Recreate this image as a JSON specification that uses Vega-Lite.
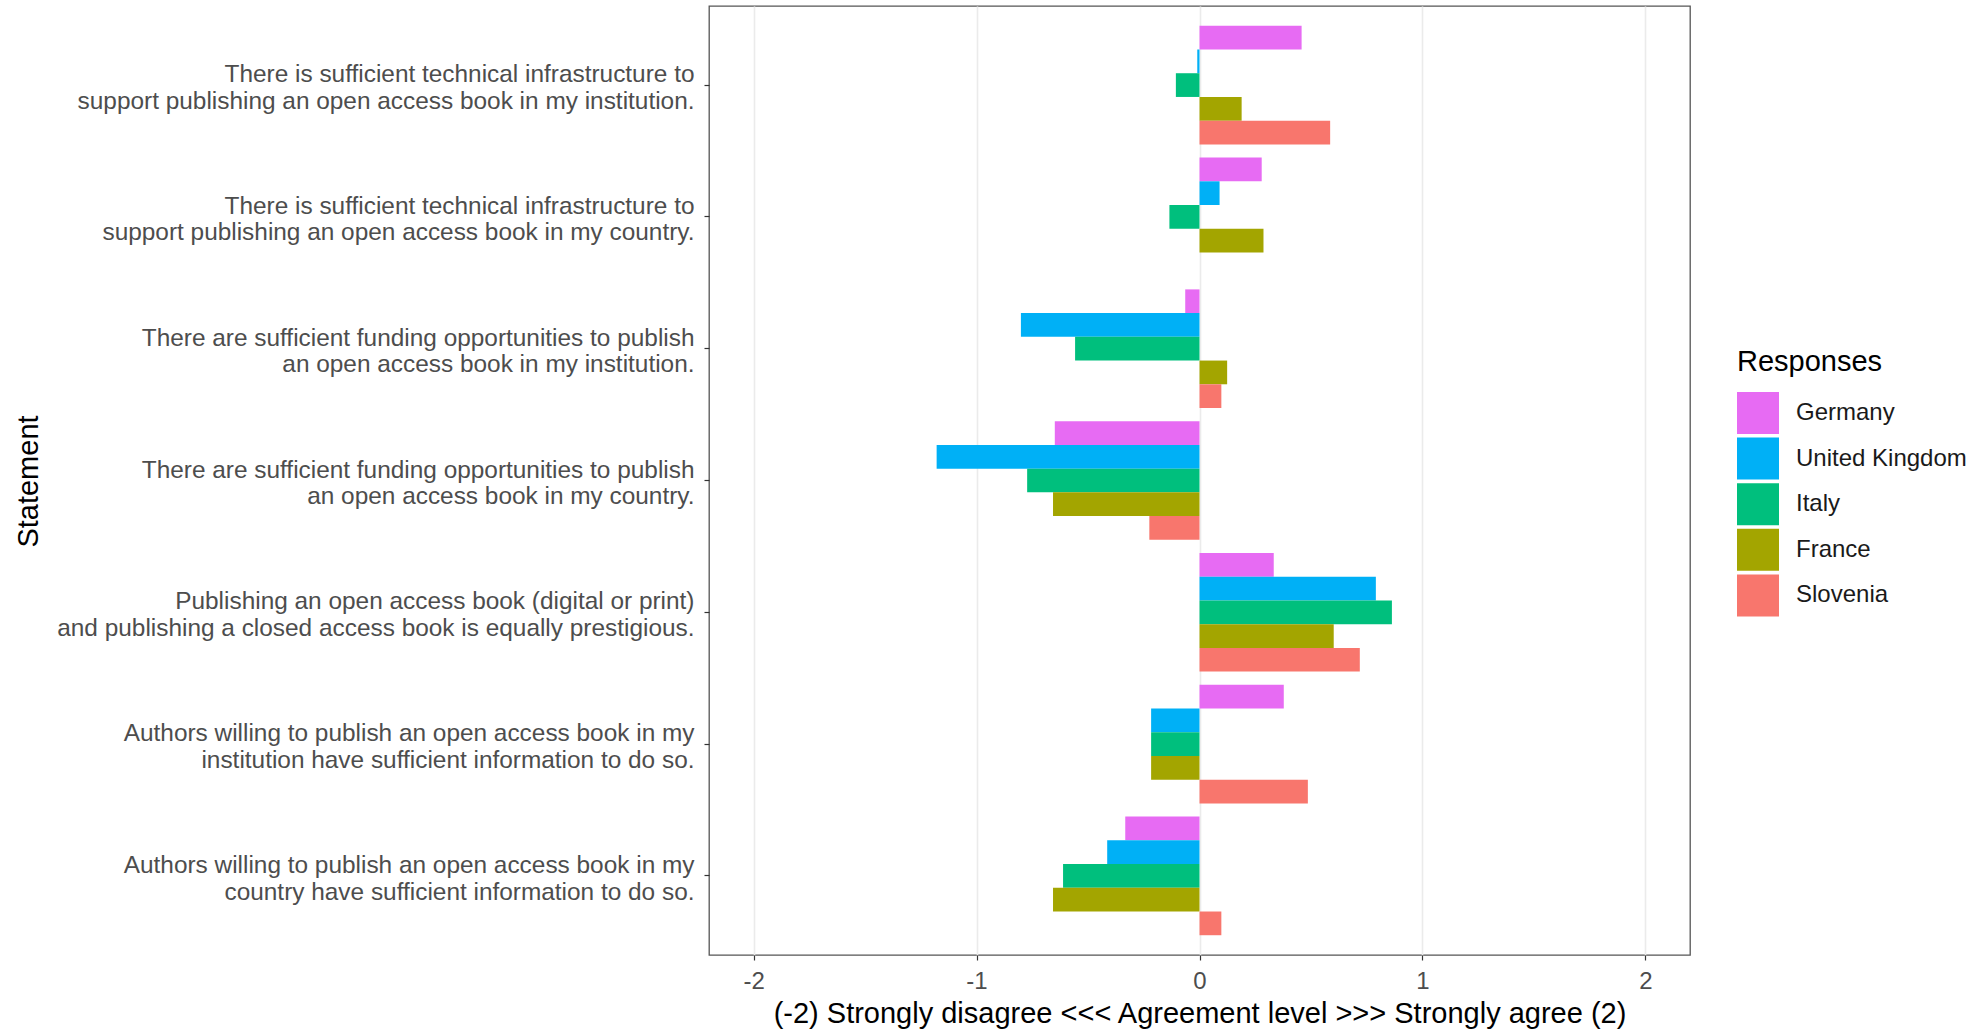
{
  "$schema": "https://vega.github.io/schema/vega-lite/v6.json",
  "autosize": {"type": "none"},
  "padding": {"left": 709, "top": 6, "right": 296, "bottom": 76},
  "width": 981,
  "height": 949,
  "background": "white",
  "config": {
    "font": "Liberation Sans",
    "view": {"stroke": "#555555", "strokeWidth": 1.3},
    "axis": {"domain": false, "tickColor": "#333333", "tickWidth": 1.2}
  },
  "data": {
    "values": [
      {"Statement": "There is sufficient technical infrastructure to\nsupport publishing an open access book in my institution.", "Country": "Germany", "Value": 0.458},
      {"Statement": "There is sufficient technical infrastructure to\nsupport publishing an open access book in my institution.", "Country": "United Kingdom", "Value": -0.01},
      {"Statement": "There is sufficient technical infrastructure to\nsupport publishing an open access book in my institution.", "Country": "Italy", "Value": -0.106},
      {"Statement": "There is sufficient technical infrastructure to\nsupport publishing an open access book in my institution.", "Country": "France", "Value": 0.189},
      {"Statement": "There is sufficient technical infrastructure to\nsupport publishing an open access book in my institution.", "Country": "Slovenia", "Value": 0.586},
      {"Statement": "There is sufficient technical infrastructure to\nsupport publishing an open access book in my country.", "Country": "Germany", "Value": 0.279},
      {"Statement": "There is sufficient technical infrastructure to\nsupport publishing an open access book in my country.", "Country": "United Kingdom", "Value": 0.09},
      {"Statement": "There is sufficient technical infrastructure to\nsupport publishing an open access book in my country.", "Country": "Italy", "Value": -0.135},
      {"Statement": "There is sufficient technical infrastructure to\nsupport publishing an open access book in my country.", "Country": "France", "Value": 0.287},
      {"Statement": "There are sufficient funding opportunities to publish\nan open access book in my institution.", "Country": "Germany", "Value": -0.064},
      {"Statement": "There are sufficient funding opportunities to publish\nan open access book in my institution.", "Country": "United Kingdom", "Value": -0.801},
      {"Statement": "There are sufficient funding opportunities to publish\nan open access book in my institution.", "Country": "Italy", "Value": -0.558},
      {"Statement": "There are sufficient funding opportunities to publish\nan open access book in my institution.", "Country": "France", "Value": 0.124},
      {"Statement": "There are sufficient funding opportunities to publish\nan open access book in my institution.", "Country": "Slovenia", "Value": 0.098},
      {"Statement": "There are sufficient funding opportunities to publish\nan open access book in my country.", "Country": "Germany", "Value": -0.649},
      {"Statement": "There are sufficient funding opportunities to publish\nan open access book in my country.", "Country": "United Kingdom", "Value": -1.179},
      {"Statement": "There are sufficient funding opportunities to publish\nan open access book in my country.", "Country": "Italy", "Value": -0.773},
      {"Statement": "There are sufficient funding opportunities to publish\nan open access book in my country.", "Country": "France", "Value": -0.657},
      {"Statement": "There are sufficient funding opportunities to publish\nan open access book in my country.", "Country": "Slovenia", "Value": -0.225},
      {"Statement": "Publishing an open access book (digital or print)\nand publishing a closed access book is equally prestigious.", "Country": "Germany", "Value": 0.333},
      {"Statement": "Publishing an open access book (digital or print)\nand publishing a closed access book is equally prestigious.", "Country": "United Kingdom", "Value": 0.791},
      {"Statement": "Publishing an open access book (digital or print)\nand publishing a closed access book is equally prestigious.", "Country": "Italy", "Value": 0.863},
      {"Statement": "Publishing an open access book (digital or print)\nand publishing a closed access book is equally prestigious.", "Country": "France", "Value": 0.602},
      {"Statement": "Publishing an open access book (digital or print)\nand publishing a closed access book is equally prestigious.", "Country": "Slovenia", "Value": 0.719},
      {"Statement": "Authors willing to publish an open access book in my\ninstitution have sufficient information to do so.", "Country": "Germany", "Value": 0.378},
      {"Statement": "Authors willing to publish an open access book in my\ninstitution have sufficient information to do so.", "Country": "United Kingdom", "Value": -0.217},
      {"Statement": "Authors willing to publish an open access book in my\ninstitution have sufficient information to do so.", "Country": "Italy", "Value": -0.217},
      {"Statement": "Authors willing to publish an open access book in my\ninstitution have sufficient information to do so.", "Country": "France", "Value": -0.217},
      {"Statement": "Authors willing to publish an open access book in my\ninstitution have sufficient information to do so.", "Country": "Slovenia", "Value": 0.486},
      {"Statement": "Authors willing to publish an open access book in my\ncountry have sufficient information to do so.", "Country": "Germany", "Value": -0.333},
      {"Statement": "Authors willing to publish an open access book in my\ncountry have sufficient information to do so.", "Country": "United Kingdom", "Value": -0.414},
      {"Statement": "Authors willing to publish an open access book in my\ncountry have sufficient information to do so.", "Country": "Italy", "Value": -0.612},
      {"Statement": "Authors willing to publish an open access book in my\ncountry have sufficient information to do so.", "Country": "France", "Value": -0.657},
      {"Statement": "Authors willing to publish an open access book in my\ncountry have sufficient information to do so.", "Country": "Slovenia", "Value": 0.098}
    ]
  },
  "mark": {"type": "bar"},
  "encoding": {
    "y": {
      "field": "Statement",
      "type": "nominal",
      "sort": null,
      "scale": {"paddingInner": 0.1, "paddingOuter": 0.15},
      "axis": {
        "title": "Statement",
        "titleFontSize": 29,
        "titleFontWeight": "normal",
        "titleColor": "#000000",
        "titleAngle": -90,
        "titleX": -681,
        "titleY": 475,
        "titleAlign": "center",
        "titleBaseline": "middle",
        "labelExpr": "split(datum.label, '\\n')",
        "labelFontSize": 24.4,
        "labelColor": "#4D4D4D",
        "labelLineHeight": 26.6,
        "labelAlign": "right",
        "labelBaseline": "middle",
        "labelOffset": -10,
        "labelLimit": 0,
        "labelPadding": 10,
        "tickSize": 5,
        "grid": false
      }
    },
    "yOffset": {
      "field": "Country",
      "type": "nominal",
      "scale": {"domain": ["Germany", "United Kingdom", "Italy", "France", "Slovenia"], "paddingInner": 0, "paddingOuter": 0}
    },
    "x": {
      "field": "Value",
      "type": "quantitative",
      "scale": {"domain": [-2.2, 2.2], "nice": false, "zero": false},
      "axis": {
        "title": "(-2) Strongly disagree <<< Agreement level >>> Strongly agree (2)",
        "titleFontSize": 29,
        "titleFontWeight": "normal",
        "titleColor": "#000000",
        "titlePadding": 6.5,
        "values": [-2, -1, 0, 1, 2],
        "labelExpr": "datum.value + ''",
        "labelFontSize": 24,
        "labelColor": "#4D4D4D",
        "labelPadding": 9,
        "tickSize": 5,
        "grid": true,
        "gridColor": "#EBEBEB",
        "gridWidth": 1.6
      }
    },
    "color": {
      "field": "Country",
      "type": "nominal",
      "scale": {
        "domain": ["Germany", "United Kingdom", "Italy", "France", "Slovenia"],
        "range": ["#E76BF3", "#00B0F6", "#00BF7D", "#A3A500", "#F8766D"]
      },
      "legend": {
        "title": "Responses",
        "orient": "none",
        "legendX": 1028,
        "legendY": 342,
        "padding": 0,
        "titleFontSize": 29,
        "titleFontWeight": "normal",
        "titleColor": "#000000",
        "titlePadding": 15,
        "symbolType": "square",
        "symbolSize": 1764,
        "symbolStrokeWidth": 0,
        "symbolOpacity": 1,
        "rowPadding": 3.6,
        "labelFontSize": 24,
        "labelColor": "#1a1a1a",
        "labelOffset": 17,
        "labelLimit": 0
      }
    }
  }
}
